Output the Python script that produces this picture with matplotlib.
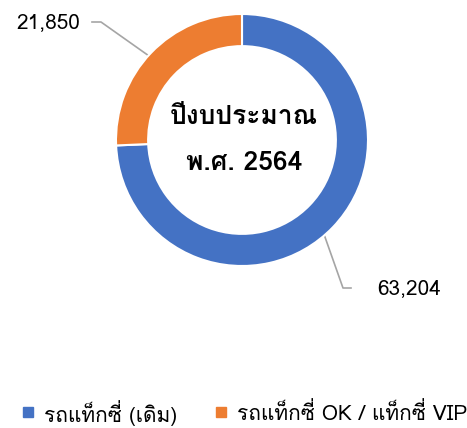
import matplotlib
matplotlib.use("Agg")
import matplotlib.pyplot as plt

plt.rcParams['font.family'] = ['Loma', 'Noto Sans Thai Looped', 'DejaVu Sans']

labels = ['รถแท็กซี่ (เดิม)', 'รถแท็กซี่ OK / แท็กซี่ VIP']
values = [63204, 21850]
colors = ['#4472C4', '#ED7D31']
center_lines = ['ปีงบประมาณ', 'พ.ศ. 2564']

W, H = 467, 428
cx, cy, r = 242, 140, 126  # donut centre and radius in pixels

fig = plt.figure(figsize=(W / 100, H / 100), dpi=100)

# background axes in pixel coords for labels, leaders and legend
ax = fig.add_axes([0, 0, 1, 1])
ax.set_xlim(0, W)
ax.set_ylim(H, 0)
ax.axis('off')

pax = fig.add_axes([(cx - r) / W, 1 - (cy + r) / H, 2 * r / W, 2 * r / H])
pax.pie(values, colors=colors, startangle=90, counterclock=False, radius=1,
        wedgeprops=dict(width=0.255, edgecolor='white', linewidth=1.5))
pax.set_xlim(-1, 1)
pax.set_ylim(-1, 1)
pax.axis('off')

ax2 = fig.add_axes([0, 0, 1, 1], zorder=5)
ax2.set_xlim(0, W)
ax2.set_ylim(H, 0)
ax2.axis('off')
ax2.text(cx + 2, 117, center_lines[0], ha='center', va='center',
         fontsize=19, fontweight='bold')
ax2.text(cx + 2, 163, center_lines[1], ha='center', va='center',
         fontsize=19, fontweight='bold')

# data labels with leader lines
ax.plot([92, 101, 166], [22, 22, 68], color='#A5A5A5', lw=1.2)
ax.text(48, 23, f'{values[1]:,}', ha='center', va='center', fontsize=15)
ax.plot([351, 343, 314], [288, 288, 206], color='#A5A5A5', lw=1.2)
ax.text(409, 289, f'{values[0]:,}', ha='center', va='center', fontsize=15)

# legend
for x0, lab, col in [(23, labels[0], colors[0]), (216, labels[1], colors[1])]:
    ax.add_patch(plt.Rectangle((x0, 407), 10, 10, color=col))
    ax.text(x0 + 21, 413, lab, ha='left', va='center', fontsize=15)

fig.savefig('out.png', dpi=100)
